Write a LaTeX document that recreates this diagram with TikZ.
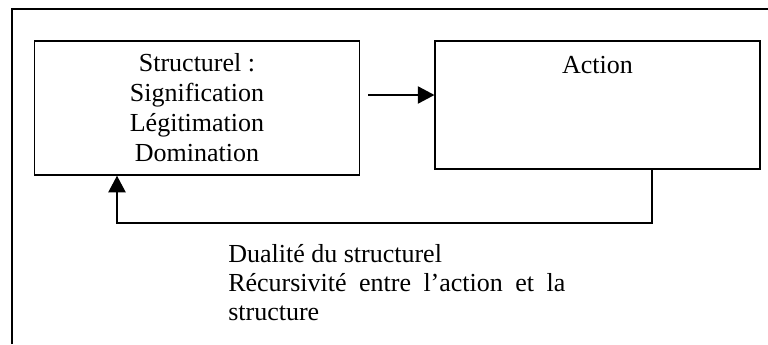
\documentclass[tikz,border=0pt]{standalone}
\usepackage{fontspec}
\setmainfont{Liberation Serif}
\usetikzlibrary{arrows.meta}

\begin{document}
\begin{tikzpicture}[x=0.75pt, y=-0.75pt,
        box/.style={draw, line width=1.1pt, inner sep=0pt, minimum width=243.5pt,
            font=\fontsize{19.5}{22.5}\selectfont},
        arr/.style={line width=1.1pt, -{Triangle[length=12.5pt, width=13pt]}}]
        \useasboundingbox (0,0) rectangle (768,344);
        \draw[line width=1.7pt] (12,344) -- (12,9) -- (768,9);

        \node[box, minimum height=100.5pt, align=center] (struct) at (197,108)
            {Structurel :\\Signification\\Légitimation\\Domination};
        \node[box, text height=24pt, text depth=72pt] (action) at (597.5,105) {Action};

        \coordinate (mid) at (400,95);
        \coordinate (turnR) at (652,223);
        \coordinate (turnL) at (117,223);

        \draw[arr, shorten <=6pt] (struct.east |- mid) -- (action.west |- mid);
        \draw[arr] (action.south -| turnR) -- (turnR) -- (turnL) -- (struct.south -| turnL);

        \node[anchor=base west, align=justify, text width=252.75pt, inner sep=0pt,
            font=\fontsize{19.5}{21.75}\selectfont] (dual) at (228,262)
            {Dualité du structurel\\Récursivité entre l’action et la structure};
    \end{tikzpicture}
\end{document}
